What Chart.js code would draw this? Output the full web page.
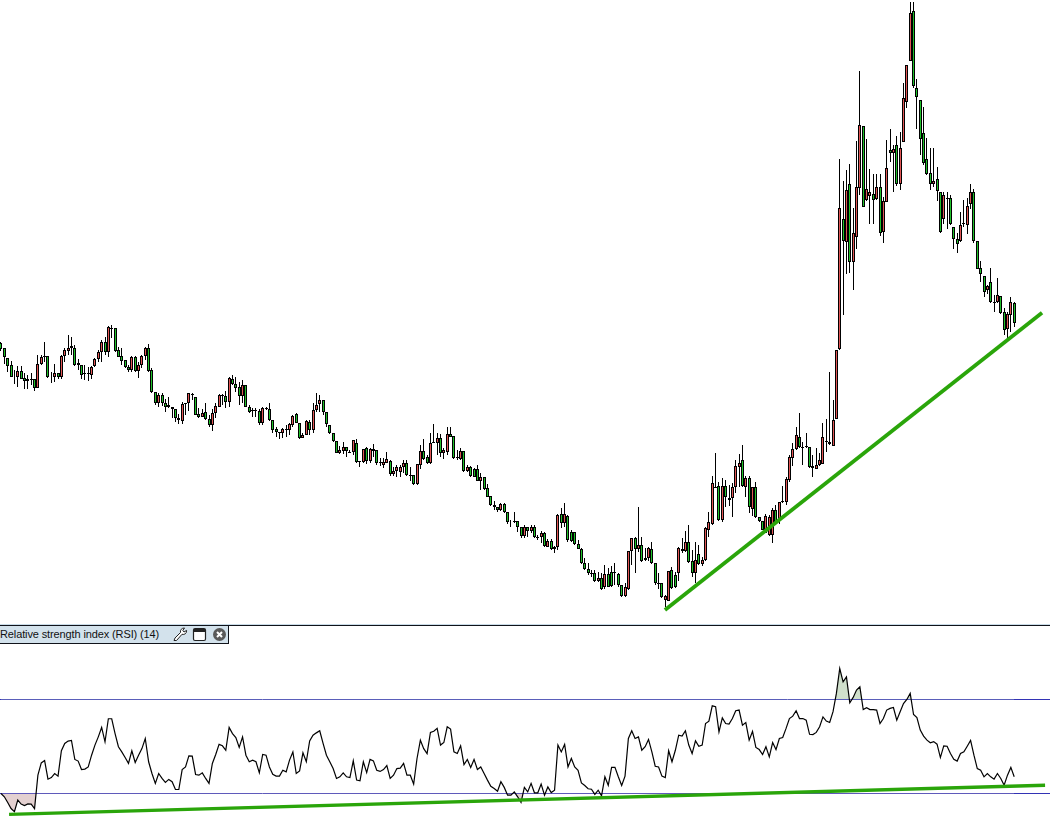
<!DOCTYPE html>
<html>
<head>
<meta charset="utf-8">
<title>Price with RSI (14)</title>
<script src="https://cdn.jsdelivr.net/npm/chart.js@4/dist/chart.umd.js"></script>
<style>
html,body{margin:0;padding:0;background:#fff;width:1050px;height:837px;overflow:hidden}
#wrap{position:relative;width:1050px;height:837px;background:#fff}
#priceBox{position:absolute;left:0;top:0;width:1050px;height:625px}
#rsiBox{position:absolute;left:0;top:626px;width:1050px;height:211px}
#sepA{position:absolute;left:0;top:624px;width:1050px;height:1px;background:#c9dbe7}
#sepB{position:absolute;left:0;top:625px;width:1050px;height:1px;background:#10131a}
#tag{position:absolute;left:0;top:626px;width:228px;height:17px;background:#d3e2ec;border-right:1px solid #10131a;border-bottom:1px solid #10131a;font:11px "Liberation Sans",Arial,sans-serif;letter-spacing:-0.12px;color:#111;line-height:16px;white-space:nowrap}
#tag span{position:absolute;left:0;top:0}
#tag svg{position:absolute;left:172px;top:1px}
</style>
</head>
<body>
<div id="wrap">
<div id="priceBox"><canvas id="price" width="1050" height="625"></canvas></div>
<div id="rsiBox"><canvas id="rsi" width="1050" height="211"></canvas></div>
<div id="sepA"></div><div id="sepB"></div>
<div id="tag"><span>Relative strength index (RSI) (14)</span>
<svg width="56" height="15" viewBox="0 0 56 15">
<path d="M2 13.5 L3 11 L8.5 5.5 C8 3 9.5 1 12.5 1 L10.8 3.4 L12 5 L14.6 3.4 C14.8 6.5 12.5 8 10 7.3 L4.5 13.5 Z" fill="#fff" stroke="#222" stroke-width="1"/>
<rect x="21.5" y="1.5" width="12" height="12" rx="1.5" fill="#fff" stroke="#222" stroke-width="1.2"/>
<rect x="22" y="2" width="11" height="3" fill="#222"/>
<circle cx="47.5" cy="7.5" r="6.5" fill="#5a5a5a"/>
<path d="M45 5 L50 10 M50 5 L45 10" stroke="#fff" stroke-width="2"/>
</svg></div>
</div>
<script>
const opens = [845,830,800,780,743,743,761,740,731,737,737,712,782,803,806,745,745,755,745,806,823,831,830,785,779,753,756,751,776,798,818,848,818,888,890,824,806,794,774,765,803,761,779,806,830,764,698,665,689,667,653,653,647,620,613,662,665,693,683,632,625,638,617,599,635,655,690,686,670,739,722,715,688,719,655,645,642,643,
607,652,647,614,589,580,575,589,584,599,632,605,562,571,608,586,644,662,674,638,599,575,553,517,522,533,520,518,545,492,490,530,493,527,524,485,481,487,491,454,461,460,473,485,450,449,423,481,521,503,486,548,545,560,515,520,572,566,503,499,522,461,473,467,467,433,443,410,386,361,355,
344,362,338,310,308,313,293,268,293,281,295,262,263,275,235,251,227,233,332,305,327,278,278,242,227,185,169,156,155,131,140,113,152,158,157,152,119,88,107,221,260,227,239,196,200,227,185,126,125,75,73,165,151,155,221,223,249,192,155,212,184,
196,285,304,410,417,315,417,380,381,415,475,494,415,440,349,413,325,311,277,269,271,344,315,368,369,434,502,527,563,530,536,533,476,469,479,484,551,548,538,619,
827,1217,1148,1322,1090,1163,1312,1496,1274,1288,1292,1278,1313,1180,1270,1424,1415,1439,1324,1450,1570,1693,1841,1610,1574,1475,1397,1357,1324,1337,1298,1217,1281,1280,1193,1159,1151,1206,1201,1262,1298,1151,1070,1046,1004,1028,969,970,986,940,887,929,967];
const highs = [849,830,800,791,765,777,777,755,750,755,737,810,810,849,806,760,783,755,810,830,870,865,840,797,779,780,775,777,800,825,855,865,898,900,890,835,830,794,780,807,807,790,810,835,843,770,698,695,695,677,683,655,647,633,670,667,697,695,683,650,647,665,630,647,665,693,693,703,743,750,745,730,735,719,660,650,650,647,
653,655,665,614,595,580,590,600,607,630,635,605,575,615,615,667,695,690,674,638,599,575,553,537,550,533,525,554,557,492,529,533,530,542,526,500,500,520,495,473,480,480,495,495,473,449,483,540,557,510,575,603,575,573,530,595,593,566,525,530,522,480,477,470,480,455,445,423,386,373,355,
367,365,338,315,338,313,293,300,293,300,301,270,283,280,257,257,237,333,350,365,329,285,280,255,230,200,185,165,165,160,155,180,170,177,185,155,120,125,222,262,265,353,265,230,235,250,185,155,125,90,163,175,160,235,260,283,300,225,250,240,205,
295,340,447,515,430,440,435,420,425,495,513,540,447,447,415,430,325,311,333,330,350,360,370,418,445,510,545,593,635,550,575,533,510,530,517,605,617,759,675,824,
1397,1332,1365,1383,1250,1452,1662,1496,1457,1368,1353,1353,1353,1285,1455,1487,1439,1467,1479,1625,1680,1870,1870,1637,1574,1553,1460,1430,1430,1375,1298,1298,1299,1291,1193,1175,1239,1274,1280,1323,1308,1151,1091,1046,1020,1071,990,1040,986,950,938,983,970];
const lows = [823,783,760,745,723,715,737,709,709,720,703,710,780,790,740,725,730,737,737,790,810,810,777,765,738,735,733,737,775,790,790,810,805,860,820,803,780,770,760,760,760,741,770,795,760,697,660,655,657,640,650,622,610,603,603,630,643,675,630,620,623,615,593,583,620,653,660,650,653,720,700,660,665,653,635,625,625,600,
600,645,613,577,565,557,560,563,570,595,605,559,560,570,570,577,640,640,630,595,573,550,515,513,513,505,515,510,485,475,485,483,485,505,480,477,470,485,447,447,445,443,457,447,433,420,420,467,495,482,483,545,510,505,497,510,565,499,495,495,459,460,445,443,431,405,405,383,357,345,340,
343,337,302,295,305,280,260,260,265,277,260,255,245,235,233,225,217,225,290,295,250,250,240,227,183,165,150,143,129,128,105,107,113,115,120,115,85,83,105,180,155,220,189,193,193,183,120,107,80,53,71,109,110,133,215,220,185,145,125,180,177,
193,263,300,410,313,310,355,357,325,395,415,415,385,335,328,320,309,285,275,268,247,300,302,365,360,430,477,525,530,480,530,470,445,467,477,482,520,540,537,618,
825,930,1053,1055,1005,1128,1290,1253,1273,1203,1203,1275,1168,1147,1269,1389,1300,1317,1305,1449,1552,1692,1612,1487,1410,1380,1350,1305,1315,1273,1177,1203,1189,1200,1128,1116,1150,1195,1173,1248,1147,1067,1030,985,992,966,940,967,933,871,860,880,895];
const closes = [829,805,778,745,745,761,739,733,737,734,712,782,804,806,743,743,755,743,806,824,830,836,781,779,751,756,753,774,797,818,848,818,893,891,823,805,793,775,766,803,761,779,806,830,763,698,665,689,667,653,659,647,620,614,663,665,695,689,631,625,635,617,599,635,656,689,686,670,740,722,712,688,719,655,638,642,645,607,
650,647,616,586,578,577,589,585,602,626,605,562,569,611,585,644,659,674,638,602,575,553,517,524,533,521,517,554,490,489,529,491,527,521,487,488,488,497,454,461,475,474,485,449,448,423,482,521,499,485,545,545,560,515,524,572,565,502,500,522,461,473,447,445,433,444,407,385,361,355,345,
364,340,308,308,313,293,268,293,281,293,263,264,275,236,251,227,233,329,305,332,254,253,242,229,185,169,155,154,131,140,109,152,115,116,159,119,88,113,221,260,228,239,191,200,231,185,125,124,83,86,161,112,113,230,229,249,188,155,194,184,196,
290,308,425,415,315,417,385,376,415,476,485,418,440,353,414,323,311,286,327,325,344,303,368,371,437,503,527,569,533,535,533,473,470,479,495,563,548,542,615,824,
1250,1153,1304,1090,1175,1313,1499,1255,1307,1298,1276,1313,1175,1271,1370,1415,1429,1324,1430,1580,1679,1835,1618,1583,1457,1387,1352,1322,1331,1301,1180,1289,1278,1203,1157,1142,1199,1203,1256,1298,1153,1069,1052,1000,1016,968,966,989,935,884,932,970,905];
const rsiValues = [30.0,28.6,26.2,23.6,22.3,27.2,25.5,24.9,25.6,25.5,23.6,37.8,43.0,44.0,36.1,36.8,38.5,37.4,48.2,51.3,52.3,52.6,44.5,43.8,40.2,40.4,41.3,46.3,50.6,54.1,58.1,52.0,61.8,61.8,55.5,49.9,47.7,45.3,42.8,48.2,43.2,46.3,49.1,53.4,43.5,38.5,34.3,38.5,36.4,34.7,36.0,35.0,31.7,31.7,40.2,41.3,46.0,45.9,38.1,37.8,38.8,36.4,34.3,42.8,46.6,50.9,50.3,48.4,58.1,55.5,53.8,49.6,54.1,46.3,43.5,44.2,43.5,38.8,46.6,46.3,41.3,38.2,37.4,37.4,39.9,39.2,44.2,47.7,38.5,39.6,47.3,43.5,52.4,54.8,55.8,56.7,51.3,46.3,43.5,40.6,36.4,37.1,38.8,37.1,
36.8,43.9,35.7,35.4,43.5,38.9,44.5,43.9,39.9,39.4,40.2,41.9,36.4,37.8,40.6,40.8,42.8,37.8,37.8,34.0,44.9,52.7,49.1,47.0,56.0,56.5,57.7,50.6,51.7,58.4,57.4,47.7,47.0,50.3,42.3,44.5,41.1,44.5,40.2,41.3,38.5,35.7,33.1,32.1,31.0,35.0,32.6,29.3,29.3,30.7,28.6,26.2,32.6,30.7,34.3,30.3,30.3,34.0,29.3,32.8,30.4,31.4,50.6,47.7,50.9,41.3,44.9,41.3,39.9,34.5,33.4,32.0,31.8,29.6,31.4,29.0,37.1,33.5,41.1,41.1,37.1,33.4,37.4,53.4,56.7,53.4,54.1,48.4,49.9,53.0,47.7,41.6,41.3,37.4,36.8,48.2,43.5,48.4,54.8,54.4,56.7,50.6,47.0,52.4,50.1,
50.6,59.8,60.8,67.3,66.9,56.2,62.2,59.8,59.5,61.9,65.2,65.5,59.1,60.2,52.7,56.4,49.6,48.7,46.6,49.9,45.6,51.7,48.7,53.4,53.8,57.7,61.9,62.9,65.2,61.9,61.9,61.2,55.2,55.1,56.0,58.4,62.6,60.8,60.2,64.8,72.6,83.2,77.5,79.6,68.6,70.9,74.0,75.4,65.7,66.5,65.7,65.7,65.5,59.8,61.9,65.5,66.2,66.6,61.2,64.8,68.3,70.0,72.6,63.6,62.3,57.0,54.4,52.7,51.6,52.1,51.0,45.3,50.3,50.1,47.0,44.6,43.8,47.0,47.7,50.1,52.6,46.3,40.6,39.9,37.1,38.5,37.1,36.1,38.5,36.4,33.5,37.8,41.1,37.1];
const rsiLevels = [30, 70];
const priceTrendIndex = [197.9, 310.3];
const priceTrendValues = [45, 937];
const rsiTrendIndex = [2.4, 311.2];
const rsiTrendValues = [21.1, 33.5];
const upColor = '#e25555', downColor = '#1fc22a', trendColor = '#2aa50a';
const xRange = {min: -0.298, max: 312.67};

Chart.defaults.animation = false;

const snap = {
  id: 'snap',
  afterDatasetsUpdate(chart) {
    chart.data.datasets.forEach((d, i) => {
      if (d.type !== 'bar') return;
      chart.getDatasetMeta(i).data.forEach(el => {
        el.x = Math.floor(el.x) + 0.5;
        el.y = Math.round(el.y);
        el.base = Math.round(el.base);
      });
    });
  }
};

const idx = opens.map((_, i) => i);
const hidden = {display: false};

new Chart(document.getElementById('price'), {
  type: 'bar',
  plugins: [snap],
  data: {
    datasets: [
      {type: 'line', order: 0, data: priceTrendIndex.map((x, i) => ({x, y: priceTrendValues[i]})),
       borderColor: trendColor, borderWidth: 3.8, pointRadius: 0, tension: 0, fill: false},
      {type: 'bar', order: 1, grouped: false, barThickness: 3, inflateAmount: 0,
       data: idx.map(i => ({x: i, y: [opens[i], closes[i]]})),
       backgroundColor: idx.map(i => closes[i] >= opens[i] ? upColor : downColor),
       borderColor: '#000', borderWidth: 1, borderSkipped: false},
      {type: 'bar', order: 2, grouped: false, barThickness: 1, inflateAmount: 0,
       data: idx.map(i => ({x: i, y: [lows[i], highs[i]]})),
       backgroundColor: '#000', borderWidth: 0}
    ]
  },
  options: {
    responsive: false,
    layout: {padding: 0},
    plugins: {legend: hidden, tooltip: {enabled: false}, title: hidden},
    scales: {
      x: {type: 'linear', offset: false, min: xRange.min, max: xRange.max, display: false},
      y: {type: 'linear', min: 0, max: 1875, display: false}
    }
  }
});

const rsiPts = rsiValues.map((y, x) => ({x, y}));
new Chart(document.getElementById('rsi'), {
  type: 'line',
  data: {
    datasets: [
      {order: 0, data: rsiTrendIndex.map((x, i) => ({x, y: rsiTrendValues[i]})),
       borderColor: trendColor, borderWidth: 3.4, pointRadius: 0, tension: 0, fill: false},
      {order: 1, data: rsiPts, borderColor: '#000', borderWidth: 1.2, pointRadius: 0, tension: 0,
       fill: {target: {value: 30}, above: 'rgba(0,0,0,0)', below: '#e3d0d0'}},
      {order: 2, data: rsiPts, borderColor: 'rgba(0,0,0,0)', borderWidth: 0, pointRadius: 0, tension: 0,
       fill: {target: {value: 70}, above: '#d0e0cc', below: 'rgba(0,0,0,0)'}}
    ]
  },
  options: {
    responsive: false,
    layout: {padding: 0},
    plugins: {legend: hidden, tooltip: {enabled: false}, title: hidden},
    scales: {
      x: {type: 'linear', offset: false, min: xRange.min, max: xRange.max, display: false},
      y: {type: 'linear', min: 11.489, max: 101.277, position: 'left',
          afterBuildTicks(s) { s.ticks = rsiLevels.map(value => ({value})); },
          afterFit(s) { s.width = 0; },
          ticks: {display: false},
          border: {display: false},
          grid: {color: '#3333b5', lineWidth: 1, drawTicks: false}}
    }
  }
});
</script>
</body>
</html>
